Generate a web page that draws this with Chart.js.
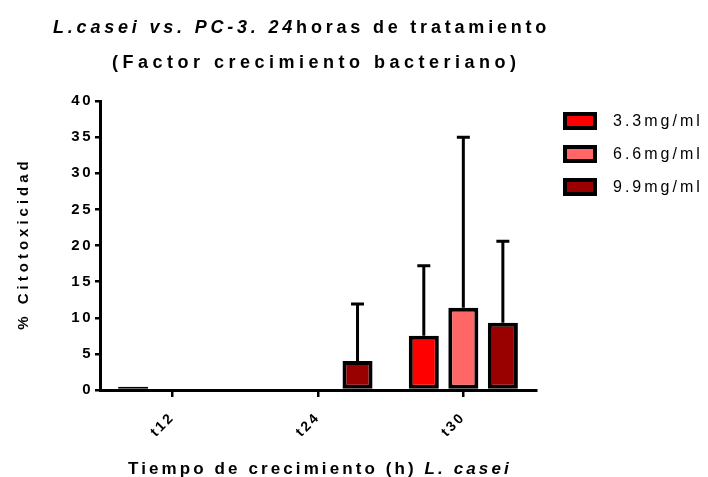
<!DOCTYPE html>
<html>
<head>
<meta charset="utf-8">
<script src="https://cdn.jsdelivr.net/npm/chart.js@4/dist/chart.umd.min.js"></script>
<style>
  html, body { margin: 0; padding: 0; background: #fff; }
  #wrap { width: 708px; height: 477px; }
</style>
</head>
<body>
<div id="wrap"><canvas id="c" width="708" height="477"></canvas></div>
<script>
// Growth time points of L. casei
const categories = ['t12', 't24', 't30'];
// Bacterial factor doses
const seriesLabels = ['3.3mg/ml', '6.6mg/ml', '9.9mg/ml'];
const seriesColors = ['#ff0000', '#ff6666', '#990000'];
// Mean % cytotoxicity per dose
const dose33 = [0.45, 0, 7.5];
const dose66 = [0, 0, 11.4];
const dose99 = [0, 4.0, 9.3];
// Upper standard deviation per dose
const sd33 = [0, 0, 9.7];
const sd66 = [0, 0, 23.6];
const sd99 = [0, 7.9, 11.3];
// Y axis tick labels
const yTicks = [0, 5, 10, 15, 20, 25, 30, 35, 40];

const FONT = '"Liberation Sans", Arial, sans-serif';
const seriesValues = [dose33, dose66, dose99];
const seriesSD = [sd33, sd66, sd99];

const datasets = seriesLabels.map((label, i) => ({
  label,
  data: seriesValues[i],
  sd: seriesSD[i],
  backgroundColor: seriesColors[i],
  borderColor: '#000',
  borderWidth: 4,
  borderSkipped: false,
  categoryPercentage: 0.816,
  barPercentage: 0.76
}));

// Draws a run of differently styled pieces on one baseline
function drawSpaced(ctx, parts, x, y, align, spacing) {
  ctx.letterSpacing = spacing + 'px';
  let total = 0;
  const widths = parts.map(p => { ctx.font = p.font; const w = ctx.measureText(p.text).width; total += w; return w; });
  let cx = align === 'center' ? x - (total - spacing) / 2 : x;
  ctx.textAlign = 'left';
  parts.forEach((p, i) => { ctx.font = p.font; ctx.fillText(p.text, cx, y); cx += widths[i]; });
}

const spacingPlugin = {
  id: 'spacing',
  beforeUpdate(chart) { chart.ctx.letterSpacing = '2.5px'; },
  beforeDraw(chart) { chart.ctx.letterSpacing = '2.5px'; }
};

const errorBars = {
  id: 'errorBars',
  afterDatasetsDraw(chart) {
    const ctx = chart.ctx;
    const y = chart.scales.y;
    ctx.save();
    ctx.strokeStyle = '#000';
    ctx.lineWidth = 3;
    chart.data.datasets.forEach((ds, i) => {
      const meta = chart.getDatasetMeta(i);
      meta.data.forEach((bar, j) => {
        const sd = ds.sd[j];
        if (!sd) return;
        const top = y.getPixelForValue(ds.data[j] + sd);
        ctx.beginPath();
        ctx.moveTo(bar.x, bar.y);
        ctx.lineTo(bar.x, top);
        ctx.moveTo(bar.x - 6.5, top);
        ctx.lineTo(bar.x + 6.5, top);
        ctx.stroke();
      });
    });
    ctx.restore();
  }
};

const annotations = {
  id: 'annotations',
  afterDraw(chart) {
    const ctx = chart.ctx;
    const area = chart.chartArea;
    ctx.save();
    ctx.fillStyle = '#000';
    ctx.textBaseline = 'alphabetic';
    // Title
    drawSpaced(ctx, [
      { text: 'L.casei vs. PC-3. 24', font: 'italic bold 18px ' + FONT },
      { text: 'horas de tratamiento', font: 'bold 18px ' + FONT }
    ], 53, 33, 'left', 3.8);
    drawSpaced(ctx, [
      { text: '(Factor crecimiento bacteriano)', font: 'bold 18px ' + FONT }
    ], 112, 68, 'left', 4.5);
    // X axis title
    drawSpaced(ctx, [
      { text: 'Tiempo de crecimiento (h) ', font: 'bold 17px ' + FONT },
      { text: 'L. casei', font: 'italic bold 17px ' + FONT }
    ], 128, 474, 'left', 3.1);
    // Y axis title
    ctx.save();
    ctx.translate(28, (area.top + area.bottom) / 2);
    ctx.rotate(-Math.PI / 2);
    drawSpaced(ctx, [{ text: '% Citotoxicidad', font: 'bold 15px ' + FONT }], 0, 0, 'center', 4);
    ctx.restore();
    // Legend
    chart.data.datasets.forEach((ds, i) => {
      const cy = 121 + i * 33;
      ctx.fillStyle = '#000';
      ctx.fillRect(563, cy - 9, 34, 18);
      ctx.fillStyle = ds.backgroundColor;
      ctx.fillRect(567, cy - 5, 26, 10);
      ctx.fillStyle = '#000';
      ctx.textBaseline = 'middle';
      drawSpaced(ctx, [{ text: ds.label, font: '16px ' + FONT }], 613, cy + 1, 'left', 3);
    });
    ctx.restore();
  }
};

new Chart(document.getElementById('c'), {
  type: 'bar',
  data: { labels: categories, datasets },
  options: {
    responsive: false,
    animation: false,
    devicePixelRatio: 1,
    layout: { padding: { top: 101, right: 172, bottom: 0, left: 0 } },
    plugins: { legend: { display: false }, title: { display: false }, tooltip: { enabled: false } },
    scales: {
      x: {
        afterFit(scale) { scale.height = 87; },
        grid: { display: true, drawOnChartArea: false, offset: false, color: '#000', lineWidth: 2.5, tickLength: 7 },
        border: { display: true, color: '#000', width: 3 },
        ticks: {
          color: '#000', minRotation: 45, maxRotation: 45, padding: 12,
          font: { family: FONT, size: 14, weight: 'bold' }
        }
      },
      y: {
        min: 0, max: 40,
        afterFit(scale) { scale.width = 100; },
        afterBuildTicks(scale) { scale.ticks = yTicks.map(v => ({ value: v })); },
        grid: { display: true, drawOnChartArea: false, color: '#000', lineWidth: 2.5, tickLength: 5 },
        border: { display: true, color: '#000', width: 3 },
        ticks: {
          color: '#000', padding: 2,
          font: { family: FONT, size: 15, weight: 'bold' }
        }
      }
    }
  },
  plugins: [spacingPlugin, errorBars, annotations]
});
</script>
</body>
</html>
